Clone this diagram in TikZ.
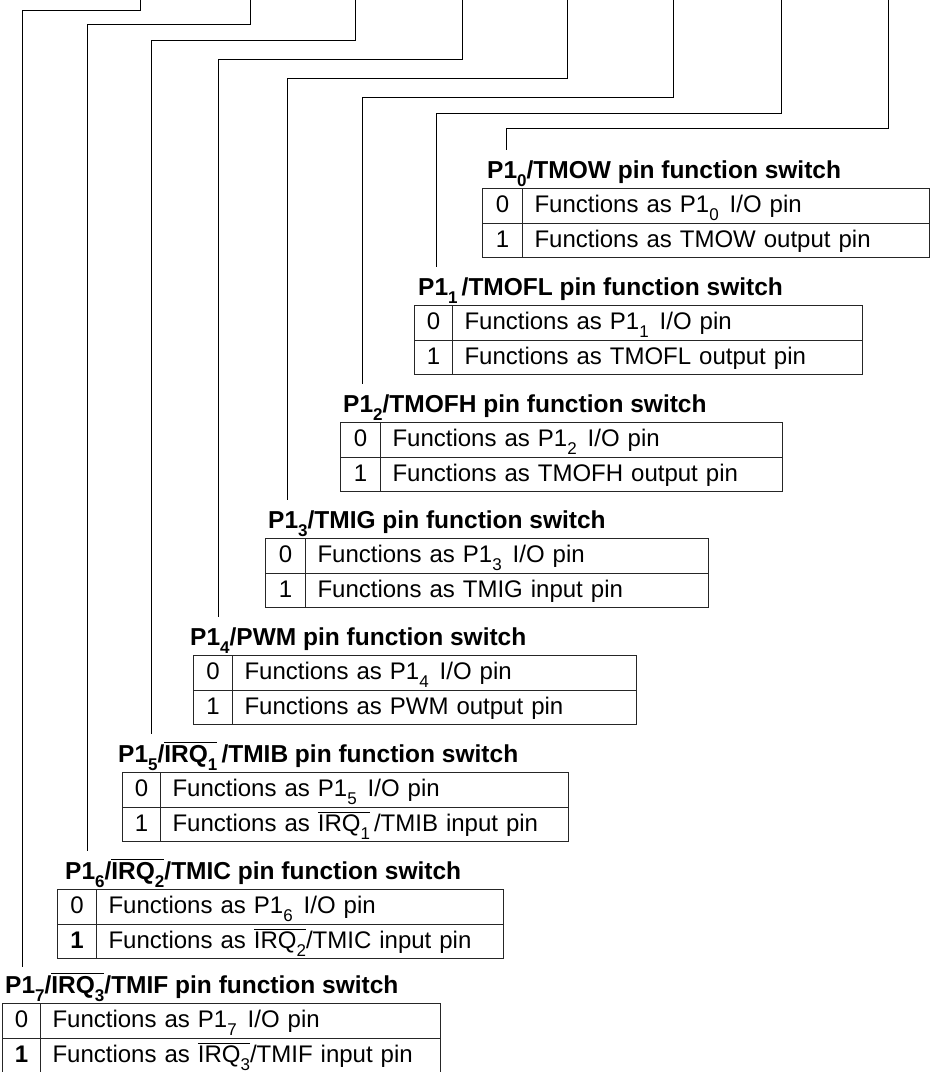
\documentclass[tikz,border=0pt]{standalone}
\usepackage{fontspec}
\setmainfont{Liberation Sans}
\newcommand\sbs[1]{\raisebox{-0.34em}{\fontsize{17}{17}\selectfont #1}}
\newcommand\ovl[1]{\vbox{\hrule height 1pt\kern 1.6pt\hbox{#1}}}
\newcommand\rowonedigit{1}
\tikzset{
  wire/.style={line width=1pt, black},
  cellbase/.style={draw=black!85, line width=1pt, inner sep=0pt, minimum height=34.5pt,
    text height=17pt, text depth=3.5pt, anchor=north west, font=\fontsize{24}{26}\selectfont},
  numcell/.style={cellbase, align=center},
  txtcell/.style={cellbase, inner xsep=12pt, align=left},
  titlenode/.style={anchor=base west, inner sep=0pt, font=\fontsize{24.5}{27}\selectfont\bfseries}
}
\newcommand\pinblock[9]{%
  \pgfmathsetmacro\wa{#3-#2}\pgfmathsetmacro\wb{#4-#3}\pgfmathsetmacro\wt{#4-#3-24}%
  \pgfmathsetmacro\ttop{#5+34.5}\pgfmathsetmacro\tbase{#5-10}%
  \node[titlenode] (title#1) at (#6,\tbase) {#7};
  \node[numcell, minimum width=\wa pt] (a#1) at (#2,#5) {0};
  \node[txtcell, minimum width=\wb pt, text width=\wt pt] (b#1) at (#3,#5) {#8};
  \node[numcell, minimum width=\wa pt] (c#1) at (#2,\ttop) {\rowonedigit};
  \node[txtcell, minimum width=\wb pt, text width=\wt pt] (d#1) at (#3,\ttop) {#9};
}
\begin{document}
\begin{tikzpicture}[x=1pt,y=-1pt]
\useasboundingbox (0,0) rectangle (931,1072);
% connectors
\coordinate (top0) at (888,0); \coordinate (bend0) at (506,128); \coordinate (end0) at (506,150);
\coordinate (top1) at (781,0); \coordinate (bend1) at (436,113); \coordinate (end1) at (436,267);
\coordinate (top2) at (673,0); \coordinate (bend2) at (362,97);  \coordinate (end2) at (362,384);
\coordinate (top3) at (567,0); \coordinate (bend3) at (287,78);  \coordinate (end3) at (287,500);
\coordinate (top4) at (462,0); \coordinate (bend4) at (218,59);  \coordinate (end4) at (218,617);
\coordinate (top5) at (355,0); \coordinate (bend5) at (151,40);  \coordinate (end5) at (151,734);
\coordinate (top6) at (250,0); \coordinate (bend6) at (87,24);   \coordinate (end6) at (87,851);
\coordinate (top7) at (140,0); \coordinate (bend7) at (22,10);   \coordinate (end7) at (22,967);
\foreach \i in {0,...,7}{\draw[wire] (top\i) |- (bend\i) -- (end\i);}
% blocks
\pinblock{0}{482}{522}{929}{188}{487}{P1\sbs{0}/TMOW pin function switch}{Functions as P1\sbs{0}\hspace{3pt} I/O pin}{Functions as TMOW output pin}
\pinblock{1}{414}{452}{862}{305}{418}{P1\sbs{1}\,/TMOFL pin function switch}{Functions as P1\sbs{1}\hspace{3pt} I/O pin}{Functions as TMOFL output pin}
\pinblock{2}{340}{380}{782}{422}{343}{P1\sbs{2}/TMOFH pin function switch}{Functions as P1\sbs{2}\hspace{3pt} I/O pin}{Functions as TMOFH output pin}
\pinblock{3}{265}{305}{708}{538}{268}{P1\sbs{3}/TMIG pin function switch}{Functions as P1\sbs{3}\hspace{3pt} I/O pin}{Functions as TMIG input pin}
\pinblock{4}{193}{232}{636}{655}{190}{P1\sbs{4}/PWM pin function switch}{Functions as P1\sbs{4}\hspace{3pt} I/O pin}{Functions as PWM output pin}
\pinblock{5}{122}{160}{568}{772}{118}{P1\sbs{5}/\ovl{IRQ\sbs{1}}\,/TMIB pin function switch}{Functions as P1\sbs{5}\hspace{3pt} I/O pin}{Functions as \ovl{IRQ\sbs{1}}\,/TMIB input pin}
\renewcommand\rowonedigit{\textbf{1}}
\pinblock{6}{57}{96}{503}{889}{65}{P1\sbs{6}/\ovl{IRQ\sbs{2}}/TMIC pin function switch}{Functions as P1\sbs{6}\hspace{3pt} I/O pin}{Functions as \ovl{IRQ\sbs{2}}/TMIC input pin}
\pinblock{7}{2}{40}{440}{1003}{5}{P1\sbs{7}/\ovl{IRQ\sbs{3}}/TMIF pin function switch}{Functions as P1\sbs{7}\hspace{3pt} I/O pin}{Functions as \ovl{IRQ\sbs{3}}/TMIF input pin}
\end{tikzpicture}
\end{document}
